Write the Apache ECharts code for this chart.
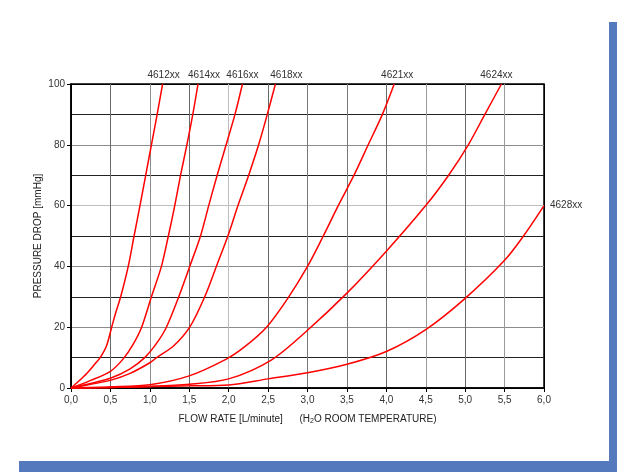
<!DOCTYPE html>
<html>
<head>
<meta charset="utf-8">
<script src="https://cdn.jsdelivr.net/npm/echarts@6/dist/echarts.min.js"></script>
<style>
html,body{margin:0;padding:0;background:#fff;}
#chart{width:617px;height:472px;}
</style>
</head>
<body>
<div id="chart"></div>
<script>
// ---- data (flow rate L/min, pressure drop mmHg) ----
var seriesNames = ['4612xx','4614xx','4616xx','4618xx','4621xx','4624xx','4628xx'];
var s4612 = [[0,0],[0.1,2.3],[0.2,4.8],[0.3,7.8],[0.37,10],[0.45,13.8],[0.516,20],[0.57,25],[0.63,30],[0.726,40],[0.80,50],[0.875,60],[0.948,70],[1.02,80],[1.093,90],[1.162,100]];
var s4614 = [[0,0],[0.25,2.5],[0.5,5.5],[0.66,9.5],[0.78,14],[0.896,20],[1.02,30],[1.147,40],[1.235,50],[1.316,60],[1.39,70],[1.47,80],[1.545,90],[1.611,100]];
var s4616 = [[0,0],[0.25,1.5],[0.5,3.2],[0.75,6.3],[0.935,10],[1.08,14.5],[1.21,20],[1.367,30],[1.506,40],[1.643,50],[1.747,60],[1.854,70],[1.968,80],[2.08,90],[2.175,100]];
var s4618 = [[0,0],[0.25,1.2],[0.5,2.5],[0.75,4.8],[1.0,8.3],[1.086,10],[1.3,13.8],[1.506,20],[1.696,30],[1.844,40],[1.99,50],[2.118,60],[2.254,70],[2.38,80],[2.49,90],[2.593,100]];
var s4621 = [[0,0],[0.5,0.4],[1.0,1.1],[1.5,4],[1.97,9.5],[2.2,13.5],[2.48,20],[2.75,29.5],[3.0,40],[3.2,50],[3.39,60],[3.59,70],[3.77,80],[3.95,90],[4.10,100]];
var s4624 = [[0,0],[0.5,0.2],[1.0,0.5],[1.5,1.2],[2.0,3],[2.54,9.2],[3.0,19],[3.5,31.2],[4.0,45],[4.5,60],[4.79,70],[5.04,80],[5.25,90],[5.46,100]];
var s4628 = [[0,0],[0.5,0.2],[1.0,0.5],[1.5,0.7],[2.0,1.0],[2.5,3],[3.0,5],[3.5,7.8],[4.0,12],[4.5,19.2],[5.0,29.5],[5.5,42],[5.74,50],[6.0,60]];
var seriesData = [s4612,s4614,s4616,s4618,s4621,s4624,s4628];

var xTicks = [0,0.5,1,1.5,2,2.5,3,3.5,4,4.5,5,5.5,6];
var yTicks = [0,20,40,60,80,100];

// ---- styles ----
var labelOffsets = [[1,0],[6,0],[0,0],[11,0],[3,0],[-5,0],[0,0]];
var labelPositions = ['top','top','top','top','top','top','right'];

var chart = echarts.init(document.getElementById('chart'), null, {renderer:'canvas'});

var series = seriesData.map(function(d, i){
  var data = d.map(function(p, j){
    if (j === d.length - 1) {
      return {
        value: p,
        label: {
          show: true,
          position: labelPositions[i],
          distance: labelPositions[i] === 'top' ? 4 : 6,
          offset: labelOffsets[i],
          formatter: seriesNames[i],
          fontFamily: 'Liberation Sans, Arial, sans-serif',
          fontSize: 10,
          color: '#333'
        }
      };
    }
    return p;
  });
  return {
    name: seriesNames[i],
    type: 'line',
    data: data,
    smooth: 0.3,
    symbol: 'circle',
    symbolSize: 0,
    showSymbol: true,
    showAllSymbol: true,
    clip: false,
    lineStyle: {color: '#ff0000', width: 1.5},
    itemStyle: {color: '#ff0000'},
    emphasis: {disabled: true},
    z: 5
  };
});

var option = {
  backgroundColor: '#ffffff',
  animation: false,
  textStyle: {fontFamily: 'Liberation Sans, Arial, sans-serif'},
  grid: {
    left: 71, right: 73, top: 84, bottom: 84,
    show: true, borderColor: '#000', borderWidth: 1.5,
    backgroundColor: 'transparent'
  },
  xAxis: {
    type: 'value',
    min: xTicks[0], max: xTicks[xTicks.length-1], interval: 0.5,
    name: '{a|FLOW RATE [L/minute]      (H}{sub|2}{a|O ROOM TEMPERATURE)}',
    nameLocation: 'middle',
    nameGap: 24,
    nameMoveOverlap: false,
    nameTextStyle: {
      rich: {
        a: {fontSize: 10, color: '#222', fontFamily: 'Liberation Sans, Arial, sans-serif', lineHeight: 14},
        sub: {fontSize: 7, color: '#222', fontFamily: 'Liberation Sans, Arial, sans-serif', padding: [5,0,0,0], lineHeight: 14}
      }
    },
    axisLine: {show: true, lineStyle: {color: '#000', width: 1.5}},
    axisTick: {show: true, inside: false, length: 4, lineStyle: {color: '#000'}},
    axisLabel: {
      fontSize: 10, color: '#333', margin: 7,
      formatter: function(v){ return v.toFixed(1).replace('.', ','); }
    },
    splitLine: {
      show: true,
      lineStyle: {
        width: 1,
        color: ['#000','#6a6a6a','#8c8c8c','#6a6a6a','#bdbdbd','#6a6a6a','#777','#777','#6a6a6a','#9a9a9a','#6a6a6a','#9a9a9a','#000']
      }
    }
  },
  yAxis: {
    type: 'value',
    min: yTicks[0], max: yTicks[yTicks.length-1], interval: 20,
    name: 'PRESSURE DROP [mmHg]',
    nameLocation: 'middle',
    nameGap: 28,
    nameMoveOverlap: false,
    nameTextStyle: {fontSize: 10, color: '#222'},
    axisLine: {show: true, lineStyle: {color: '#000', width: 1.5}},
    axisTick: {show: true, inside: false, length: 4, lineStyle: {color: '#000'}},
    axisLabel: {fontSize: 10, color: '#333', margin: 6},
    splitLine: {
      show: true,
      lineStyle: {width: 1, color: ['#000','#8c8c8c','#8c8c8c','#bdbdbd','#8c8c8c','#000']}
    },
    minorTick: {show: false, splitNumber: 2},
    minorSplitLine: {show: true, lineStyle: {color: '#222', width: 1}}
  },
  graphic: [
    {type: 'rect', shape: {x: 609, y: 22, width: 8, height: 450}, style: {fill: '#5479bd'}, z: 100},
    {type: 'rect', shape: {x: 19, y: 461, width: 598, height: 11}, style: {fill: '#5479bd'}, z: 100}
  ],
  series: series
};
chart.setOption(option);
</script>
</body>
</html>
